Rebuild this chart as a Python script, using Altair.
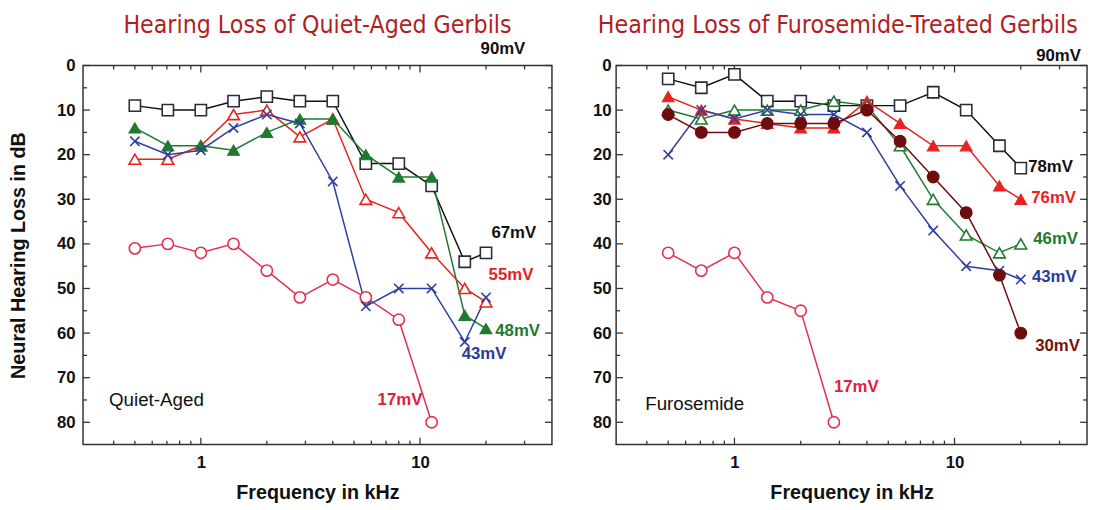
import altair as alt
import pandas as pd

FREQ = [0.5, 0.707, 1, 1.41, 2, 2.83, 4, 5.66, 8, 11.3, 16, 20]

# Quiet-aged gerbils (dB hearing loss)
qa_67 = [9, 10, 10, 8, 7, 8, 8, 22, 22, 27, 44, 42]
qa_55 = [21, 21, 18, 11, 10, 16, 12, 30, 33, 42, 50, 53]
qa_48 = [14, 18, 18, 19, 15, 12, 12, 20, 25, 25, 56, 59]
qa_43 = [17, 20, 19, 14, 11, 13, 26, 54, 50, 50, 62, 52]
qa_17 = [41, 40, 42, 40, 46, 52, 48, 52, 57, 80]

# Furosemide-treated gerbils
fu_78 = [3, 5, 2, 8, 8, 9, 9, 9, 6, 10, 18, 23]
fu_76 = [7, 10, 12, 13, 14, 14, 8, 13, 18, 18, 27, 30]
fu_46 = [10, 12, 10, 10, 10, 8, 9, 18, 30, 38, 42, 40]
fu_43 = [20, 10, 12, 10, 11, 11, 15, 27, 37, 45, 46, 48]
fu_30 = [11, 15, 15, 13, 13, 13, 10, 17, 25, 33, 47, 60]
fu_17 = [42, 46, 42, 52, 55, 80]

# annotation labels: text, freq, dB, colour
qa_labels_text = ["90mV", "67mV", "55mV", "48mV", "43mV", "17mV"]
qa_labels_f = [23.9, 26.8, 26.0, 27.9, 19.6, 8.1]
qa_labels_db = [-3.6, 37.6, 47.0, 59.6, 64.6, 75.0]
qa_labels_c = ["#111111", "#111111", "#e8231f", "#1f7a30", "#2a3a9a", "#e0203a"]

fu_labels_text = ["90mV", "78mV", "76mV", "46mV", "43mV", "30mV", "17mV"]
fu_labels_f = [29.7, 27.3, 28.2, 28.8, 28.4, 29.4, 3.58]
fu_labels_db = [-2.2, 22.8, 29.8, 39.0, 47.5, 62.8, 72.0]
fu_labels_c = ["#111111", "#111111", "#e8231f", "#1f7a30", "#2a3a9a", "#7a1010", "#e0203a"]

TITLES = ["Hearing Loss of Quiet-Aged Gerbils", "Hearing Loss of Furosemide-Treated Gerbils"]

X_MAJOR = [1, 10]
X_MINOR = [0.4, 0.5, 0.6, 0.7, 0.8, 0.9, 2, 3, 4, 5, 6, 7, 8, 9, 20, 30]
Y_MAJOR = [0, 10, 20, 30, 40, 50, 60, 70, 80]
Y_MINOR = [5, 15, 25, 35, 45, 55, 65, 75]

H = 384
FONT = "Liberation Sans"
XTITLE = "Frequency in kHz"
YTITLE = "Neural Hearing Loss in dB"

xs = alt.Scale(type="log", domain=[0.29, 40], nice=False)
ys = alt.Scale(domain=[0, 85], reverse=True, nice=False, zero=False)

X_PATH = "M-1,-1L1,1M-1,1L1,-1"


def make_axes(show_ytitle):
    xa = alt.Axis(values=X_MAJOR, format="d", ticks=False, domain=False, grid=False,
                  labelFont=FONT, labelFontSize=17, labelFontWeight="bold", labelColor="#111",
                  labelPadding=10, titleFont=FONT, titleFontSize=20, titleFontWeight="bold",
                  titleColor="#111", titlePadding=13)
    if show_ytitle:
        ya = alt.Axis(values=Y_MAJOR, ticks=False, domain=False, grid=False,
                      labelFont=FONT, labelFontSize=17, labelFontWeight="bold", labelColor="#111",
                      labelPadding=8, titleFont=FONT, titleFontSize=20, titleFontWeight="bold",
                      titleColor="#111", titlePadding=28)
    else:
        ya = alt.Axis(values=Y_MAJOR, ticks=False, domain=False, grid=False,
                      labelFont=FONT, labelFontSize=17, labelFontWeight="bold", labelColor="#111",
                      labelPadding=5)
    return xa, ya


def panel(series, lab_t, lab_f, lab_db, lab_c, corner_text, corner_f, corner_db,
          title, title_dx, width, show_ytitle):
    xa, ya = make_axes(show_ytitle)
    ytitle = YTITLE if show_ytitle else None

    def X(field):
        return alt.X(field, type="quantitative", scale=xs, axis=xa, title=XTITLE)

    def Y(field):
        return alt.Y(field, type="quantitative", scale=ys, axis=ya, title=ytitle)

    layers = []
    # inward ticks
    for vals, ln in [(X_MAJOR, 7), (X_MINOR, 4)]:
        d = pd.DataFrame({"v": vals})
        layers.append(alt.Chart(d).mark_rule(color="#333", strokeWidth=1.3).encode(
            x=X("v"), y=alt.value(H), y2=alt.value(H - ln)))
        layers.append(alt.Chart(d).mark_rule(color="#333", strokeWidth=1.3).encode(
            x=X("v"), y=alt.value(0), y2=alt.value(ln)))
    for vals, ln in [(Y_MAJOR, 7), (Y_MINOR, 4)]:
        d = pd.DataFrame({"v": vals})
        layers.append(alt.Chart(d).mark_rule(color="#333", strokeWidth=1.3).encode(
            y=Y("v"), x=alt.value(0), x2=alt.value(ln)))
        layers.append(alt.Chart(d).mark_rule(color="#333", strokeWidth=1.3).encode(
            y=Y("v"), x=alt.value(width), x2=alt.value(width - ln)))

    for vals, lcol, mcol, shape, filled, size in series:
        d = pd.DataFrame({"f": FREQ[:len(vals)], "db": vals})
        base = alt.Chart(d).encode(x=X("f"), y=Y("db"))
        layers.append(base.mark_line(color=lcol, strokeWidth=1.5))
    for vals, lcol, mcol, shape, filled, size in series:
        d = pd.DataFrame({"f": FREQ[:len(vals)], "db": vals})
        base = alt.Chart(d).encode(x=X("f"), y=Y("db"))
        if shape == "x":
            pt = base.mark_point(shape=X_PATH, filled=False, stroke=mcol, strokeWidth=1.6,
                                 size=size, opacity=1)
        elif filled:
            pt = base.mark_point(shape=shape, filled=True, fill=mcol, stroke=mcol,
                                 strokeWidth=1.2, size=size, opacity=1)
        else:
            pt = base.mark_point(shape=shape, filled=True, fill="white", stroke=mcol,
                                 strokeWidth=1.6, size=size, opacity=1)
        layers.append(pt)

    ld = pd.DataFrame({"t": lab_t, "f": lab_f, "db": lab_db, "c": lab_c})
    layers.append(alt.Chart(ld).mark_text(font=FONT, fontSize=17, fontWeight="bold",
                                          align="center", baseline="middle").encode(
        x=X("f"), y=Y("db"), text="t:N", color=alt.Color("c:N", scale=None)))
    cd = pd.DataFrame({"t": [corner_text], "f": [corner_f], "db": [corner_db]})
    layers.append(alt.Chart(cd).mark_text(font=FONT, fontSize=19, color="#111",
                                          align="left", baseline="middle").encode(
        x=X("f"), y=Y("db"), text="t:N"))
    td = pd.DataFrame({"t": [title]})
    layers.append(alt.Chart(td).mark_text(font="DejaVu Sans Condensed", fontSize=25,
                                          color="#b01e23", align="center",
                                          baseline="middle").encode(
        x=alt.value(width / 2 + title_dx), y=alt.value(-41), text="t:N"))

    return alt.layer(*layers).properties(width=width, height=H)


RED = "#e8231f"
GREEN = "#1f7a30"
BLUE = "#2f3ea0"
DARK = "#2b2b3b"
PINK = "#e2304f"
MAROON = "#6e0d0d"

left_series = [
    (qa_17, PINK, PINK, "circle", False, 130),
    (qa_67, "#111111", DARK, "square", False, 130),
    (qa_55, RED, RED, "triangle-up", False, 140),
    (qa_48, GREEN, GREEN, "triangle-up", True, 140),
    (qa_43, BLUE, BLUE, "x", False, 90),
]
right_series = [
    (fu_17, PINK, PINK, "circle", False, 130),
    (fu_78, "#111111", DARK, "square", False, 130),
    (fu_76, RED, RED, "triangle-up", True, 140),
    (fu_46, GREEN, GREEN, "triangle-up", False, 140),
    (fu_43, BLUE, BLUE, "x", False, 90),
    (fu_30, MAROON, MAROON, "circle", True, 140),
]

left = panel(left_series, qa_labels_text, qa_labels_f, qa_labels_db, qa_labels_c,
             "Quiet-Aged", 0.381, 75, TITLES[0], 0, 475, True)
right = panel(right_series, fu_labels_text, fu_labels_f, fu_labels_db, fu_labels_c,
              "Furosemide", 0.393, 76, TITLES[1], -14, 477, False)

chart = alt.hconcat(left, right, spacing=38).properties(
    padding={"left": 0, "top": 1, "right": 0, "bottom": 0}
).configure_view(stroke="#333333", strokeWidth=1.5)

chart.save("out.html", embed_options={"renderer": "svg", "actions": False})
